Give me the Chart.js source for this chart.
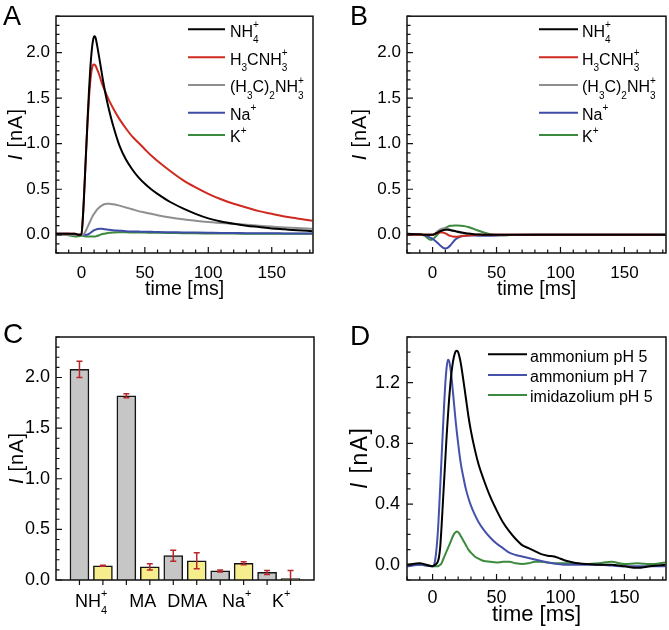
<!DOCTYPE html>
<html>
<head>
<meta charset="utf-8">
<script src="https://cdn.jsdelivr.net/npm/chart.js@4.4.0/dist/chart.umd.min.js"></script>
<style>
  body { margin: 0; background: #fff; }
  #fig { position: relative; width: 669px; height: 630px; }
  #fig canvas { position: absolute; }
</style>
</head>
<body>
<div id="fig">
  <canvas id="pA" width="335" height="315" style="left:0;top:0"></canvas>
  <canvas id="pB" width="334" height="315" style="left:335px;top:0"></canvas>
  <canvas id="pC" width="335" height="315" style="left:0;top:315px"></canvas>
  <canvas id="pD" width="334" height="315" style="left:335px;top:315px"></canvas>
</div>
<script>
const FONT = '"Liberation Sans", Arial, sans-serif';

// ---- panel A: wild type currents (time in ms, current in nA)
const timeA = [-20, -10, -5, -2, 0, 1, 2, 3, 4, 5, 6, 7, 8, 9, 10, 11, 12, 14, 16, 18, 20, 22, 25, 30, 35, 40, 45, 50, 55, 60, 70, 80, 90, 100, 110, 120, 130, 140, 150, 160, 170, 182];
const nh4A = [0.01, 0.01, 0.01, 0, 0, 0.15, 0.4, 0.7, 1.0, 1.3, 1.58, 1.82, 2.0, 2.12, 2.18, 2.17, 2.11, 1.95, 1.78, 1.62, 1.48, 1.36, 1.2, 0.98, 0.83, 0.72, 0.63, 0.56, 0.5, 0.45, 0.36, 0.29, 0.23, 0.18, 0.145, 0.12, 0.1, 0.085, 0.07, 0.06, 0.05, 0.04];
const maA = [0.01, 0.01, 0.01, 0, 0, 0.15, 0.4, 0.7, 1.0, 1.27, 1.5, 1.68, 1.8, 1.86, 1.87, 1.86, 1.83, 1.76, 1.67, 1.6, 1.53, 1.47, 1.39, 1.27, 1.17, 1.08, 1.01, 0.94, 0.87, 0.81, 0.7, 0.6, 0.52, 0.45, 0.39, 0.34, 0.3, 0.26, 0.23, 0.2, 0.18, 0.155];
const dmaA = [0, 0, 0, 0, 0, 0, 0.01, 0.03, 0.06, 0.09, 0.12, 0.15, 0.18, 0.21, 0.23, 0.25, 0.27, 0.3, 0.32, 0.335, 0.34, 0.34, 0.335, 0.32, 0.3, 0.28, 0.26, 0.245, 0.23, 0.215, 0.19, 0.17, 0.155, 0.14, 0.13, 0.12, 0.11, 0.1, 0.09, 0.08, 0.075, 0.065];
const naA = [0.01, 0.01, 0, 0, 0, 0, 0, 0, 0, 0.005, 0.01, 0.02, 0.03, 0.04, 0.05, 0.055, 0.06, 0.065, 0.065, 0.062, 0.058, 0.055, 0.05, 0.045, 0.04, 0.037, 0.035, 0.033, 0.032, 0.03, 0.028, 0.026, 0.024, 0.022, 0.02, 0.019, 0.018, 0.017, 0.016, 0.015, 0.014, 0.013];
const kA = [0.01, -0.005, -0.02, -0.015, -0.01, -0.01, -0.015, -0.015, -0.02, -0.02, -0.02, -0.02, -0.02, -0.02, -0.02, -0.018, -0.015, -0.005, 0.005, 0.012, 0.018, 0.022, 0.025, 0.027, 0.027, 0.026, 0.025, 0.024, 0.023, 0.022, 0.02, 0.018, 0.016, 0.015, 0.014, 0.013, 0.012, 0.011, 0.01, 0.01, 0.01, 0.01];

// ---- panel B: mutant currents
const timeB = [-20, -10, -6, -4, -2, 0, 2, 4, 6, 8, 10, 12, 14, 16, 18, 20, 22, 25, 28, 32, 36, 40, 45, 50, 55, 60, 80, 100, 140, 182];
const nh4B = [0.01, 0.005, 0, 0, 0, 0, 0.01, 0.025, 0.04, 0.05, 0.055, 0.055, 0.05, 0.045, 0.04, 0.033, 0.027, 0.02, 0.013, 0.007, 0.003, 0, 0, 0, 0, 0, 0, 0, 0, 0];
const maB = [0, 0, 0, 0, 0, 0, 0.01, 0.02, 0.025, 0.025, 0.015, 0, -0.012, -0.02, -0.022, -0.02, -0.017, -0.012, -0.007, -0.003, 0, 0, 0, 0, 0, 0, 0, 0, 0, 0];
const dmaB = [0.01, 0.005, 0, 0, 0, 0, 0.015, 0.04, 0.06, 0.07, 0.07, 0.065, 0.055, 0.045, 0.035, 0.027, 0.02, 0.013, 0.008, 0.004, 0.002, 0, 0, 0, 0, 0, 0, 0, 0, 0];
const naB = [0, 0, -0.005, -0.015, -0.03, -0.045, -0.065, -0.09, -0.118, -0.14, -0.15, -0.14, -0.115, -0.08, -0.05, -0.03, -0.018, -0.01, -0.008, -0.008, -0.01, -0.01, -0.01, -0.008, -0.004, -0.002, 0, 0, 0, 0];
const kB = [0, 0, -0.01, -0.035, -0.055, -0.05, -0.025, 0.005, 0.035, 0.058, 0.075, 0.09, 0.098, 0.1, 0.102, 0.102, 0.1, 0.095, 0.085, 0.065, 0.045, 0.025, 0.005, -0.005, -0.006, -0.003, 0, 0, 0, 0];

const ionNames = ['NH_4^+', 'H_3CNH_3^+', '(H_3C)_2NH_3^+', 'Na^+', 'K^+'];
const ionColors = ['#000000', '#cf2a1f', '#8f8f8f', '#3d4ca6', '#3b8a3d'];

// ---- panel C: peak currents, wild type (grey) and mutant (yellow)
const ionLabels = ['NH_4^+', 'MA', 'DMA', 'Na^+', 'K^+'];
const ionLabelPos = [1.5, 3.7, 5.6, 7.7, 9.6];
const wtPos = [1, 3, 5, 7, 9];
const wtMean = [2.08, 1.82, 0.24, 0.09, 0.075];
const wtErr = [0.08, 0.02, 0.055, 0.01, 0.02];
const mutPos = [2, 4, 6, 8, 10];
const mutMean = [0.14, 0.13, 0.19, 0.165, 0.015];
const mutErr = [0.005, 0.03, 0.08, 0.015, 0.08];

// ---- panel D: pH dependence
const timeD = [-20, -10, 0, 2, 4, 5, 6, 7, 8, 9, 10, 11, 12, 13, 14, 15, 16, 17, 18, 19, 20, 21, 22, 24, 26, 28, 30, 33, 36, 40, 45, 50, 55, 60, 65, 70, 75, 80, 85, 90, 95, 100, 105, 110, 120, 130, 140, 150, 160, 170, 182];
const amm5D = [0, 0.01, -0.01, 0, 0.02, 0.05, 0.12, 0.25, 0.4, 0.55, 0.7, 0.85, 0.98, 1.1, 1.2, 1.28, 1.34, 1.38, 1.405, 1.41, 1.4, 1.37, 1.33, 1.22, 1.1, 0.98, 0.88, 0.76, 0.66, 0.56, 0.45, 0.36, 0.28, 0.22, 0.17, 0.13, 0.11, 0.09, 0.07, 0.06, 0.055, 0.04, 0.025, 0.015, 0.005, 0, 0, -0.01, -0.02, -0.01, 0];
const amm7D = [-0.01, 0, -0.01, 0.03, 0.2, 0.35, 0.52, 0.7, 0.88, 1.05, 1.2, 1.3, 1.35, 1.34, 1.29, 1.22, 1.13, 1.04, 0.95, 0.87, 0.8, 0.73, 0.67, 0.58, 0.5, 0.44, 0.39, 0.33, 0.28, 0.23, 0.18, 0.14, 0.11, 0.08, 0.065, 0.055, 0.045, 0.035, 0.025, 0.015, 0.008, 0.003, 0, 0, 0, 0, -0.005, -0.01, -0.01, -0.01, -0.01];
const imi5D = [0, 0, -0.01, -0.01, -0.01, -0.005, 0, 0.01, 0.03, 0.05, 0.07, 0.09, 0.11, 0.13, 0.15, 0.17, 0.19, 0.205, 0.215, 0.22, 0.215, 0.205, 0.19, 0.16, 0.13, 0.1, 0.08, 0.055, 0.04, 0.025, 0.02, 0.015, 0.02, 0.02, 0.01, 0.005, 0.01, 0.02, 0.02, 0.015, 0.01, 0.01, 0.01, 0.005, 0.005, 0.01, 0.02, 0.005, 0.01, 0.005, 0.015];
const dNames = ['ammonium pH 5', 'ammonium pH 7', 'imidazolium pH 5'];
const dColors = ['#000000', '#4551aa', '#3b8a3d'];

const timeTicks = [0, 50, 100, 150];
const currentTicks = [0, 0.5, 1, 1.5, 2];
const currentTicksD = [0, 0.4, 0.8, 1.2];

// text with stacked sub/superscripts: "NH_4^+"
function rich(ctx, str, x, y, size, draw) {
  const big = size + 'px ' + FONT;
  const small = Math.round(size * 0.62) + 'px ' + FONT;
  let i = 0, run = '', cx = x;
  const flush = () => {
    if (!run) return;
    ctx.font = big;
    if (draw) ctx.fillText(run, cx, y);
    cx += ctx.measureText(run).width;
    run = '';
  };
  while (i < str.length) {
    const c = str[i];
    if (c === '_' || c === '^') {
      flush();
      let sub = '', sup = '';
      while (i < str.length && (str[i] === '_' || str[i] === '^')) {
        if (str[i] === '_') sub = str[i + 1]; else sup = str[i + 1];
        i += 2;
      }
      ctx.font = small;
      if (draw && sub) ctx.fillText(sub, cx, y + size * 0.4);
      if (draw && sup) ctx.fillText(sup, cx, y - size * 0.55);
      cx += Math.max(sub ? ctx.measureText(sub).width : 0, sup ? ctx.measureText(sup).width : 0);
    } else {
      run += c;
      i++;
    }
  }
  flush();
  return cx - x;
}

// frame, inward ticks, titles, legend, error bars (Origin look)
const originLook = {
  id: 'originLook',
  afterDatasetsDraw(chart, args, o) {
    const ctx = chart.ctx, a = chart.chartArea;
    const xs = chart.scales.x, ys = chart.scales.y;
    ctx.save();
    ctx.textAlign = 'left';
    ctx.textBaseline = 'alphabetic';
    ctx.fillStyle = '#000';

    if (o.errorBars) {
      ctx.save();
      ctx.beginPath();
      ctx.rect(a.left, a.top, a.right - a.left, a.bottom - a.top);
      ctx.clip();
      ctx.strokeStyle = '#b8252b';
      ctx.lineWidth = 1.5;
      chart.data.datasets.forEach(ds => {
        ds.data.forEach((p, i) => {
          const px = xs.getPixelForValue(p.x);
          const top = ys.getPixelForValue(p.y + ds.errors[i]);
          const bot = ys.getPixelForValue(p.y - ds.errors[i]);
          ctx.beginPath();
          ctx.moveTo(px, top); ctx.lineTo(px, bot);
          ctx.moveTo(px - 3, top); ctx.lineTo(px + 3, top);
          ctx.moveTo(px - 3, bot); ctx.lineTo(px + 3, bot);
          ctx.stroke();
        });
      });
      ctx.restore();
    }

    // frame
    ctx.strokeStyle = '#111';
    ctx.lineWidth = 1.5;
    ctx.strokeRect(a.left, a.top, a.right - a.left, a.bottom - a.top);

    // y ticks (inward)
    ctx.lineWidth = 1.2;
    ctx.beginPath();
    const ratioY = Math.round(o.yMajor / o.yMinor);
    for (let k = Math.ceil(ys.min / o.yMinor); k * o.yMinor <= ys.max + 1e-9; k++) {
      const py = ys.getPixelForValue(k * o.yMinor);
      const len = (k % ratioY === 0) ? 6 : 3.5;
      ctx.moveTo(a.left, py); ctx.lineTo(a.left + len, py);
    }
    // x ticks
    if (o.xOutTicks) {
      o.xOutTicks.forEach(v => {
        const px = xs.getPixelForValue(v);
        ctx.moveTo(px, a.bottom); ctx.lineTo(px, a.bottom + 5);
      });
    } else {
      const ratioX = Math.round(o.xMajor / o.xMinor);
      for (let k = Math.ceil(xs.min / o.xMinor); k * o.xMinor <= xs.max + 1e-9; k++) {
        const px = xs.getPixelForValue(k * o.xMinor);
        const len = (k % ratioX === 0) ? 6 : 3.5;
        ctx.moveTo(px, a.bottom); ctx.lineTo(px, a.bottom - len);
      }
    }
    ctx.stroke();

    // category labels under bars
    if (o.catLabels) {
      o.catLabels.text.forEach((t, i) => {
        const w = rich(ctx, t, 0, 0, o.catLabels.size, false);
        rich(ctx, t, xs.getPixelForValue(o.catLabels.pos[i]) - w / 2, o.catLabels.y, o.catLabels.size, true);
      });
    }

    // x title
    ctx.font = o.xTitle.size + 'px ' + FONT;
    ctx.textAlign = 'center';
    ctx.textBaseline = 'middle';
    ctx.fillText(o.xTitle.text, (a.left + a.right) / 2, o.xTitle.y);

    // y title: italic I, then [nA]
    ctx.save();
    ctx.translate(o.yTitle.x, (a.top + a.bottom) / 2);
    ctx.rotate(-Math.PI / 2);
    ctx.textAlign = 'left';
    const fi = 'italic ' + o.yTitle.size + 'px ' + FONT, fn = o.yTitle.size + 'px ' + FONT;
    const parts = ['[', 'n', 'A', ']'];
    ctx.font = fi; const wI = ctx.measureText('I').width;
    ctx.font = fn;
    const wp = parts.map(p => ctx.measureText(p).width);
    const total = wI + o.yTitle.gap + wp.reduce((s, w) => s + w, 0) + o.yTitle.track * 3;
    let cx = -total / 2;
    ctx.font = fi; ctx.fillText('I', cx, 0);
    cx += wI + o.yTitle.gap;
    ctx.font = fn;
    parts.forEach((p, i) => { ctx.fillText(p, cx, 0); cx += wp[i] + o.yTitle.track; });
    ctx.restore();

    // legend
    if (o.legend) {
      const L = o.legend;
      ctx.textAlign = 'left';
      ctx.textBaseline = 'alphabetic';
      L.text.forEach((t, i) => {
        ctx.strokeStyle = L.colors[i];
        ctx.lineWidth = 2;
        ctx.beginPath();
        ctx.moveTo(L.x1, L.ys[i]); ctx.lineTo(L.x2, L.ys[i]);
        ctx.stroke();
        ctx.fillStyle = '#000';
        rich(ctx, t, L.tx, L.ys[i] + L.size * 0.46, L.size, true);
      });
    }

    // panel letter
    ctx.textAlign = 'left';
    ctx.textBaseline = 'alphabetic';
    ctx.font = o.letter.size + 'px ' + FONT;
    ctx.fillText(o.letter.text, o.letter.x, o.letter.y);
    ctx.restore();
  }
};

function lineSet(times, vals, color) {
  return {
    data: times.map((t, i) => ({ x: t, y: vals[i] })),
    borderColor: color, borderWidth: 2, pointRadius: 0,
    cubicInterpolationMode: 'monotone', fill: false
  };
}

function axes(area, W, H, x, y) {
  return {
    x: {
      type: 'linear', min: x.min, max: x.max,
      grid: { display: false, drawTicks: false }, border: { display: false },
      ticks: { display: x.labels !== false, autoSkip: false, maxRotation: 0, padding: x.pad, color: '#000',
               font: { family: FONT, size: x.size }, callback: v => v },
      afterBuildTicks: s => { s.ticks = (x.ticks || []).map(v => ({ value: v })); },
      afterFit: s => { s.height = H - area.b; }
    },
    y: {
      type: 'linear', min: y.min, max: y.max,
      grid: { display: false, drawTicks: false }, border: { display: false },
      ticks: { padding: y.pad, color: '#000', font: { family: FONT, size: y.size },
               callback: v => v.toFixed(1) },
      afterBuildTicks: s => { s.ticks = y.ticks.map(v => ({ value: v })); },
      afterFit: s => { s.width = area.l; }
    }
  };
}

function make(id, type, datasets, area, scales, look) {
  const cv = document.getElementById(id);
  return new Chart(cv, {
    type: type,
    data: { datasets: datasets },
    options: {
      responsive: false, animation: false, devicePixelRatio: 1,
      layout: { padding: { left: 0, top: area.t, right: cv.width - area.r, bottom: 0 } },
      scales: axes(area, cv.width, cv.height, scales.x, scales.y),
      plugins: { legend: { display: false }, tooltip: { enabled: false }, originLook: look }
    },
    plugins: [originLook]
  });
}

// A
const areaA = { l: 56, t: 9, r: 313, b: 253 };
make('pA', 'line',
  [lineSet(timeA, nh4A, ionColors[0]), lineSet(timeA, maA, ionColors[1]), lineSet(timeA, dmaA, ionColors[2]),
   lineSet(timeA, naA, ionColors[3]), lineSet(timeA, kA, ionColors[4])],
  areaA,
  { x: { min: -20, max: 182.5, ticks: timeTicks, pad: 10, size: 17 },
    y: { min: -0.2, max: 2.4, ticks: currentTicks, pad: 6, size: 17 } },
  { yMajor: 0.5, yMinor: 0.1, xMajor: 50, xMinor: 10,
    xTitle: { text: 'time [ms]', size: 19.5, y: 290 }, yTitle: { x: 16, size: 20, gap: 7, track: 1 },
    legend: { text: ionNames, colors: ionColors, x1: 188, x2: 225, tx: 230, ys: [29.3, 57.3, 85, 112.7, 135], size: 16 },
    letter: { text: 'A', x: 3, y: 25, size: 27 } });

// B
const areaB = { l: 72, t: 9, r: 331, b: 253 };
make('pB', 'line',
  [lineSet(timeB, nh4B, ionColors[0]), lineSet(timeB, maB, ionColors[1]), lineSet(timeB, dmaB, ionColors[2]),
   lineSet(timeB, naB, ionColors[3]), lineSet(timeB, kB, ionColors[4])],
  areaB,
  { x: { min: -20, max: 182.5, ticks: timeTicks, pad: 10, size: 17 },
    y: { min: -0.2, max: 2.4, ticks: currentTicks, pad: 6, size: 17 } },
  { yMajor: 0.5, yMinor: 0.1, xMajor: 50, xMinor: 10,
    xTitle: { text: 'time [ms]', size: 19.5, y: 290 }, yTitle: { x: 25, size: 20, gap: 7, track: 1 },
    legend: { text: ionNames, colors: ionColors, x1: 204, x2: 243, tx: 247, ys: [29.3, 57.3, 85, 112.7, 135], size: 16 },
    letter: { text: 'B', x: 15, y: 25, size: 27 } });

// C
const areaC = { l: 56, t: 22, r: 314, b: 265 };
const barBase = { borderColor: '#151515', borderWidth: 1.5, barThickness: 19, grouped: false };
make('pC', 'bar',
  [Object.assign({ data: wtPos.map((p, i) => ({ x: p, y: wtMean[i] })), errors: wtErr, backgroundColor: '#c6c6c6' }, barBase),
   Object.assign({ data: mutPos.map((p, i) => ({ x: p, y: mutMean[i] })), errors: mutErr, backgroundColor: '#f6ee8c' }, barBase)],
  areaC,
  { x: { min: 0, max: 11, ticks: [], labels: false, pad: 0, size: 18 },
    y: { min: 0, max: 2.4, ticks: currentTicks, pad: 6, size: 18 } },
  { errorBars: true, yMajor: 0.5, yMinor: 0.1, xOutTicks: wtPos.concat(mutPos),
    catLabels: { text: ionLabels, pos: ionLabelPos, y: 291.5, size: 18 },
    xTitle: { text: '', size: 20, y: 300 }, yTitle: { x: 17, size: 20, gap: 7, track: 1 },
    letter: { text: 'C', x: 3, y: 28, size: 28 } });

// D
const areaD = { l: 72, t: 22, r: 331, b: 265 };
make('pD', 'line',
  [lineSet(timeD, amm5D, dColors[0]), lineSet(timeD, amm7D, dColors[1]), lineSet(timeD, imi5D, dColors[2])],
  areaD,
  { x: { min: -20, max: 182.5, ticks: timeTicks, pad: 7, size: 18 },
    y: { min: -0.1, max: 1.5, ticks: currentTicksD, pad: 7, size: 18 } },
  { yMajor: 0.4, yMinor: 0.1, xMajor: 50, xMinor: 10,
    xTitle: { text: 'time [ms]', size: 22, y: 300 }, yTitle: { x: 26, size: 23, gap: 9, track: 1.5 },
    legend: { text: dNames, colors: dColors, x1: 153, x2: 192, tx: 195, ys: [39.3, 60, 80], size: 16 },
    letter: { text: 'D', x: 15, y: 30, size: 28 } });
</script>
</body>
</html>
